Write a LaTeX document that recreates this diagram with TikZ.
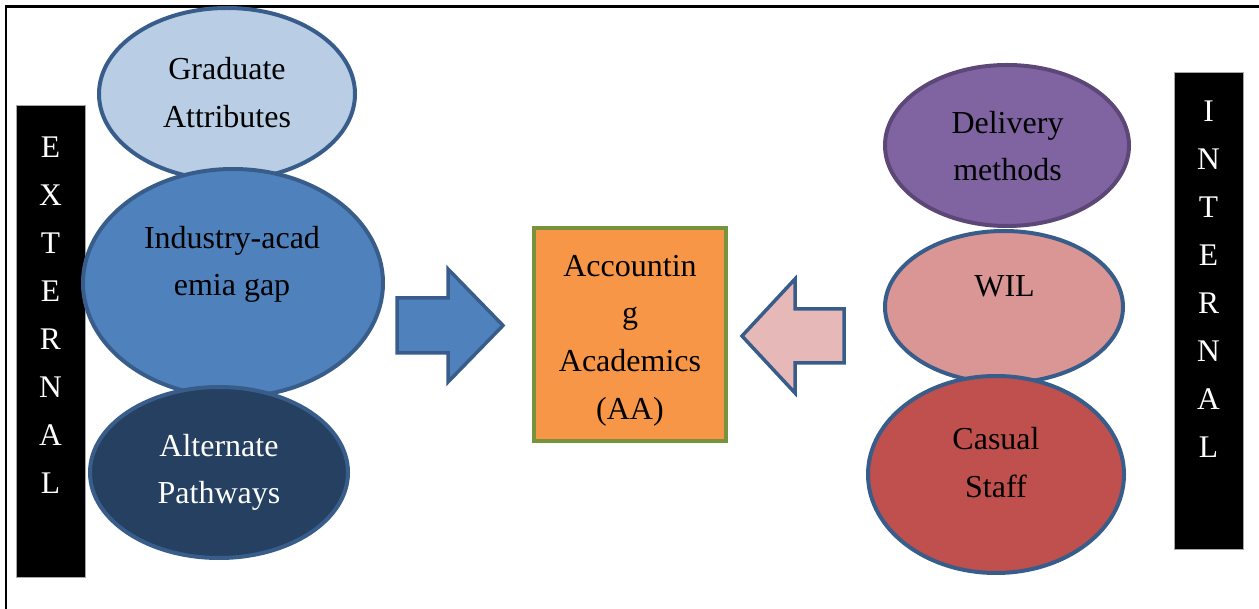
\documentclass[tikz,border=0pt]{standalone}
\usepackage{fontspec}
\setmainfont{Liberation Serif}
\usetikzlibrary{shapes.geometric}

\definecolor{edgeblue}{HTML}{385D8A}
\definecolor{gradfill}{HTML}{B9CDE5}
\definecolor{indfill}{HTML}{4F81BD}
\definecolor{altfill}{HTML}{254061}
\definecolor{delfill}{HTML}{8064A2}
\definecolor{deledge}{HTML}{5C4776}
\definecolor{wilfill}{HTML}{D99694}
\definecolor{casfill}{HTML}{C0504D}
\definecolor{aafill}{HTML}{F79646}
\definecolor{aaedge}{HTML}{77933C}
\definecolor{pinkfill}{HTML}{E6B9B8}

\tikzset{
  ell/.style={ellipse, draw=edgeblue, line width=4pt, inner sep=0pt},
  txt/.style={align=center, inner sep=0pt, font=\fontsize{32}{47.7}\selectfont},
  sidebar/.style={rectangle, fill=black, draw=gray!70, line width=0.6pt, inner sep=0pt},
  sidetxt/.style={align=center, inner sep=0pt, text=white, font=\fontsize{31.5}{48}\selectfont},
  blockarrow/.style={draw=edgeblue, line width=3.5pt, line join=miter},
}

\begin{document}
\begin{tikzpicture}[x=1pt, y=-1pt]
\useasboundingbox (0,0) rectangle (1259,609);

% outer frame (top and left edges)
\coordinate (frameBL) at (6,609);
\coordinate (frameTL) at (6,6.5);
\coordinate (frameTR) at (1259,6.5);
\draw[line width=2.2pt] (frameBL) -- (frameTL) -- (frameTR);

% side labels
\node[sidebar, minimum width=69pt, minimum height=472pt] (extbar) at (50.5,341) {};
\node[sidetxt] (exttxt) at (50.5,315) {E\\X\\T\\E\\R\\N\\A\\L};
\node[sidebar, minimum width=69pt, minimum height=477pt] (intbar) at (1208.5,310.5) {};
\node[sidetxt] (inttxt) at (1208.5,279.5) {I\\N\\T\\E\\R\\N\\A\\L};

% external factors
\node[ell, fill=gradfill, minimum width=256pt, minimum height=172pt] (grad) at (227,94) {};
\node[txt] (gradtxt) at (227,92.4) {Graduate\\Attributes};
\node[ell, fill=indfill, minimum width=300pt, minimum height=228pt] (ind) at (233,283) {};
\node[txt] (indtxt) at (232,264.3) {Industry-acad\\emia gap};
\node[ell, fill=altfill, minimum width=258pt, minimum height=171pt] (alt) at (219,472.5) {};
\node[txt, text=white] (alttxt) at (219,472.3) {Alternate\\Pathways};

% internal factors
\node[ell, draw=deledge, fill=delfill, minimum width=244pt, minimum height=161pt] (del) at (1007,145.5) {};
\node[txt] (deltxt) at (1007.5,146) {Delivery\\methods};
\node[ell, fill=wilfill, minimum width=238pt, minimum height=152pt] (wil) at (1004,307) {};
\node[txt] (wiltxt) at (1004.5,286.7) {WIL};
\node[ell, fill=casfill, minimum width=256pt, minimum height=197pt] (cas) at (996,474.5) {};
\node[txt] (castxt) at (996,462.4) {Casual\\Staff};

% central box
\node[rectangle, draw=aaedge, fill=aafill, line width=4pt, inner sep=0pt,
      minimum width=192pt, minimum height=213pt] (aa) at (630,334.5) {};
\node[txt] (aatxt) at (630,340.6) {Accountin\\g\\Academics\\(AA)};

% block arrows pointing at the central box
\draw[blockarrow, fill=indfill]
  (397,298) -- (448,298) -- (448,269) -- (503,325.5) -- (448,382) -- (448,353) -- (397,353) -- cycle;
\draw[blockarrow, fill=pinkfill]
  (844,309) -- (795,309) -- (795,279) -- (742,336) -- (795,393) -- (795,363) -- (844,363) -- cycle;
\end{tikzpicture}
\end{document}
